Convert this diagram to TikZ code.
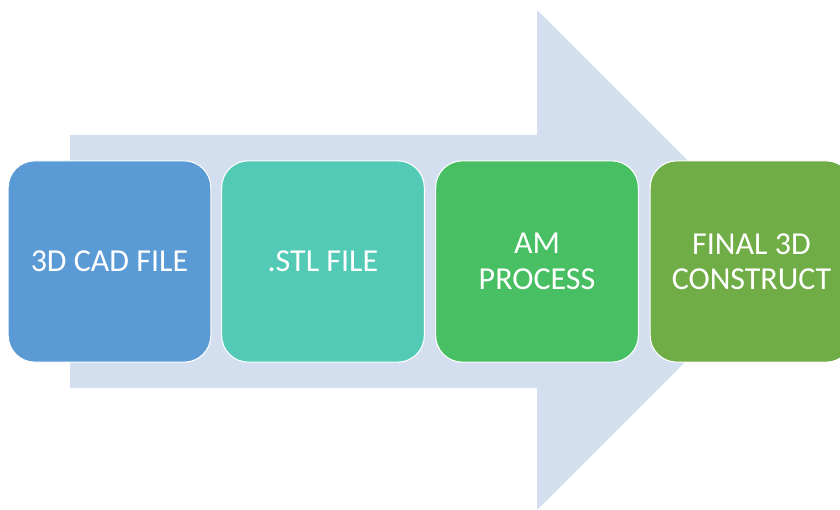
\documentclass[tikz,border=0pt]{standalone}
\usepackage{fontspec}
\setmainfont{Carlito}
\definecolor{arrowbg}{HTML}{D3DEEF}
\definecolor{cadblue}{HTML}{5B9BD5}
\definecolor{stlteal}{HTML}{53CAB6}
\definecolor{amgreen}{HTML}{48BF62}
\definecolor{finalgreen}{HTML}{70AD47}
\tikzset{
    stagebox/.style={rectangle, rounded corners=20pt, draw=white, line width=0.8pt,
        minimum width=152pt, minimum height=151pt, align=center, text=white,
        font=\fontsize{24}{26.5}\selectfont}
}
\begin{document}
\begin{tikzpicture}[x=0.75pt,y=-0.75pt]
        \useasboundingbox (0,0) rectangle (840,510);
        % Draw big background arrow
        \fill[arrowbg] (70,135) -- (537,135) -- (537,10) -- (787,260)
            -- (537,510) -- (537,388) -- (70,388) -- cycle;
        % Draw the four stages
        \node[stagebox, fill=cadblue] (cad) at (109.5,261.5) {3D CAD FILE};
        \node[stagebox, fill=stlteal] (stl) at (323,261.5) {.STL FILE};
        \node[stagebox, fill=amgreen] (am) at (537,261.5) {AM\\PROCESS};
        \node[stagebox, fill=finalgreen] (final) at (751.5,261.5) {FINAL 3D\\CONSTRUCT};
    \end{tikzpicture}
\end{document}
